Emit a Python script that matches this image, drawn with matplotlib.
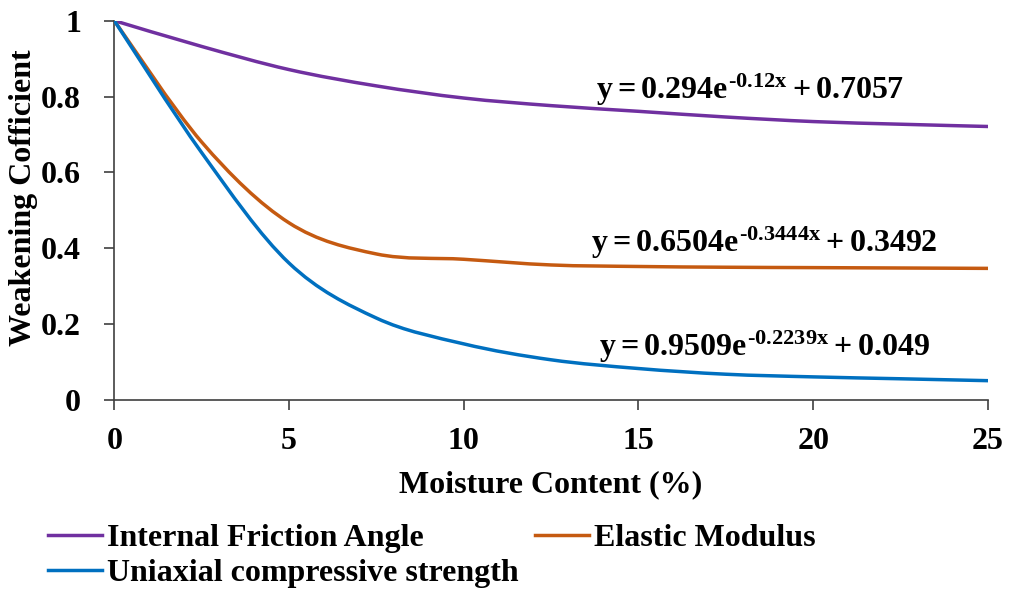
import matplotlib
matplotlib.use("Agg")
import matplotlib.pyplot as plt
from matplotlib.path import Path
from matplotlib.patches import PathPatch
from matplotlib.lines import Line2D

plt.rcParams['font.family'] = ['Liberation Serif', 'DejaVu Serif']
plt.rcParams['font.weight'] = 'bold'
plt.rcParams['mathtext.fontset'] = 'custom'
plt.rcParams['mathtext.rm'] = 'Liberation Serif:bold'
plt.rcParams['mathtext.it'] = 'Liberation Serif:bold'
plt.rcParams['mathtext.bf'] = 'Liberation Serif:bold'

# values
moisture = [0, 2.5, 5, 7.5, 10, 12.5, 15, 17.5, 20, 22.5, 25]
friction = [1.0, 0.932, 0.871, 0.828, 0.796, 0.776, 0.761, 0.746, 0.734, 0.727, 0.721]
elastic = [1.0, 0.680, 0.467, 0.385, 0.371, 0.356, 0.352, 0.350, 0.349, 0.348, 0.347]
ucs = [1.0, 0.652, 0.361, 0.216, 0.148, 0.106, 0.083, 0.068, 0.061, 0.056, 0.051]

labels = ["Internal Friction Angle", "Elastic Modulus", "Uniaxial compressive strength"]
colors = ["#7030A0", "#C55A11", "#0070C0"]
equations = [r"$y = 0.294e^{\text{-0.12x}} + 0.7057$",
             r"$y = 0.6504e^{\text{-0.3444x}} + 0.3492$",
             r"$y = 0.9509e^{\text{-0.2239x}} + 0.049$"]
eq_pos = [(18.2, 0.818), (18.6, 0.413), (18.6, 0.141)]


def smooth_path(xs, ys):
    # excel-like smoothed line: cubic bezier segments
    pts = list(zip(xs, ys))
    verts = [pts[0]]
    codes = [Path.MOVETO]
    n = len(pts)
    for i in range(n - 1):
        p0 = pts[i - 1] if i > 0 else pts[i]
        p1 = pts[i]
        p2 = pts[i + 1]
        p3 = pts[i + 2] if i + 2 < n else pts[i + 1]
        c1 = (p1[0] + (p2[0] - p0[0]) / 6, p1[1] + (p2[1] - p0[1]) / 6)
        c2 = (p2[0] - (p3[0] - p1[0]) / 6, p2[1] - (p3[1] - p1[1]) / 6)
        verts += [c1, c2, p2]
        codes += [Path.CURVE4] * 3
    return Path(verts, codes)


fig = plt.figure(figsize=(10.09, 5.9), dpi=100)
ax = fig.add_axes([0.1133, 0.322, 0.8658, 0.643])

handles = []
for ys, c, lab in zip([friction, elastic, ucs], colors, labels):
    patch = PathPatch(smooth_path(moisture, ys), fill=False, edgecolor=c,
                      linewidth=2.5, capstyle='round', zorder=3)
    ax.add_patch(patch)
    handles.append(Line2D([], [], color=c, linewidth=2.5, label=lab))

for eq, (ex, ey) in zip(equations, eq_pos):
    ax.text(ex, ey, eq, fontsize=23, ha='center', va='center')

ax.set_xlim(0, 25)
ax.set_ylim(0, 1)
ax.set_xticks([0, 5, 10, 15, 20, 25])
ax.set_yticks([0, 0.2, 0.4, 0.6, 0.8, 1])
ax.set_yticklabels(["0", "0.2", "0.4", "0.6", "0.8", "1"])
ax.tick_params(labelsize=23, width=1.2, length=7.5, color='#404040')
ax.tick_params(axis='y', pad=16.5)
ax.tick_params(axis='x', pad=12)
for s in ['top', 'right']:
    ax.spines[s].set_visible(False)
for s in ['left', 'bottom']:
    ax.spines[s].set_color('#404040')
    ax.spines[s].set_linewidth(1.2)

ax.set_xlabel("Moisture Content (%)", fontsize=23, fontweight='bold', labelpad=10.5)
ax.set_ylabel("Weakening Cofficient", fontsize=23, fontweight='bold')
ax.yaxis.set_label_coords(-0.087, 0.533)

# column-wise fill: friction + ucs in col 1, elastic in col 2
order = [handles[0], handles[2], handles[1]]
fig.legend(handles=order, ncol=2, loc='upper left', bbox_to_anchor=(0.0476, 0.112),
           frameon=False, fontsize=23, handlelength=1.7, handletextpad=0.15,
           columnspacing=0.5, labelspacing=0.17, borderaxespad=0, borderpad=0)

fig.savefig("out.png", dpi=100)
